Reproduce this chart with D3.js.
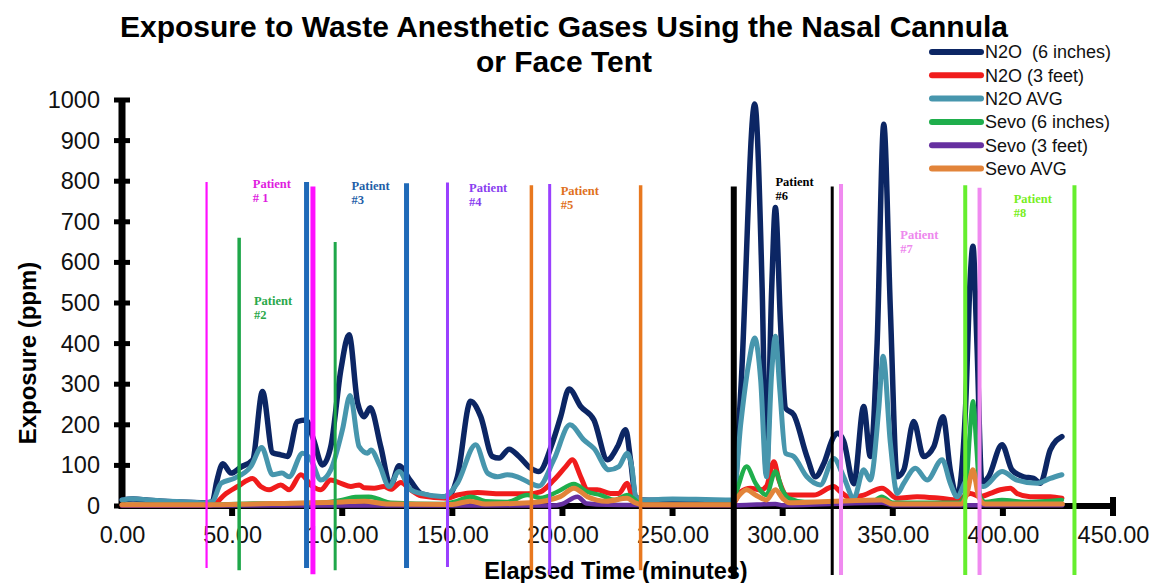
<!DOCTYPE html>
<html><head><meta charset="utf-8">
<script src="https://cdn.jsdelivr.net/npm/d3@7"></script>
<style>
html,body{margin:0;padding:0;background:#fff;}
svg{display:block;font-family:"Liberation Sans",Arial,sans-serif;}
</style></head>
<body>
<svg id="chart" width="1151" height="583"></svg>
<script>
// ---------------- DATA ----------------
const titleLines = ["Exposure to Waste Anesthetic Gases Using the Nasal Cannula", "or Face Tent"];
const xAxisTitle = "Elapsed Time (minutes)";
const yAxisTitle = "Exposure (ppm)";
const xTicks = [0, 50, 100, 150, 200, 250, 300, 350, 400, 450];
const yTicks = [0, 100, 200, 300, 400, 500, 600, 700, 800, 900, 1000];
const seriesNames = ["N2O  (6 inches)", "N2O (3 feet)", "N2O AVG", "Sevo (6 inches)", "Sevo (3 feet)", "Sevo AVG"];

// [minutes, ppm]
const n2o6in = [[0,15],[5,17],[12,14],[25,10],[38,8],[41,10],[43,60],[45.8,104],[49.5,81],[54,96],[59.3,113],[63.8,282],[68.4,131],[72.1,126],[75.2,122],[79.7,208],[83.5,212],[87,163],[91,101],[94.8,146],[99.4,336],[103.1,422],[107,254],[110,220],[112.7,242],[117.5,146],[122,50],[125.8,99],[131,62],[136,30],[145,22],[148,23],[152.3,72],[158.3,258],[162.9,220],[168.2,122],[171.2,118],[175.8,140],[180.3,122],[185.6,93],[189.3,85],[195.4,155],[199.2,220],[203,288],[208.3,245],[214.3,212],[220.4,114],[225,146],[228.7,188],[230.9,114],[233.2,23],[236,15],[250,14],[265,12],[277.5,12],[281,286],[287.3,990],[290.7,533],[292.6,81],[295,533],[296.7,735],[299,452],[301.3,241],[305,225],[311,122],[314.9,72],[318.7,105],[323.2,171],[325,179],[327.7,160],[332.3,55],[336.8,245],[339.8,122],[342.9,402],[345.9,940],[348.9,484],[352,72],[355,89],[359.5,208],[364,122],[368.6,146],[372.8,220],[376.1,89],[379.2,23],[383,237],[385.2,566],[386.4,640],[388.2,402],[390.5,56],[393.5,72],[399.6,151],[404.1,89],[409.4,72],[413.9,68],[417,56],[421.5,138],[426.8,171]];
const n2o3ft = [[0,2],[40,2],[42.6,7],[46.4,27],[52.5,48],[59.3,68],[63,48],[66.8,40],[72.1,52],[75.9,40],[81.2,77],[86.5,48],[90.3,40],[94.8,64],[99.4,56],[103.9,48],[107.7,52],[110,45],[114.5,44],[119,48],[122,41],[126.6,58],[131,40],[135.7,25],[147.8,19],[152.3,27],[161.4,33],[172,30],[184,30],[190,35],[196.1,64],[201.5,97],[204.5,114],[208.3,72],[211.3,40],[215.8,40],[221.9,31],[225.6,31],[229.4,56],[231.2,31],[234,15],[237,3],[277,3],[281,35],[285.4,44],[290,40],[292.6,48],[296,109],[298.3,64],[302,27],[314.1,27],[323.2,48],[326.2,35],[330.8,20],[336.8,27],[345.1,44],[352,19],[361,23],[371.6,19],[379.2,15],[385.2,31],[389.7,23],[394.3,31],[398.8,40],[403.4,44],[406.4,31],[412.4,23],[421.5,23],[426.8,19]];
const n2oAvg = [[0,15],[5,18],[12,15],[25,11],[38,8],[41,11],[45,56],[51,68],[58.5,97],[63.4,144],[68.4,77],[72.6,81],[75.9,72],[82,130],[85.8,114],[90.3,64],[94.8,89],[100.1,188],[103.6,272],[107.7,146],[111.5,130],[113,138],[117,100],[121.3,48],[125.8,85],[131.1,40],[135.7,31],[146.2,23],[152.3,56],[160.6,151],[166,81],[170.5,72],[175,77],[179.5,72],[184.8,58],[189.3,49],[196.1,114],[203.4,200],[209.7,163],[214.3,142],[221.1,89],[225.6,97],[229.4,130],[231.7,89],[233.2,23],[237,15],[250,17],[265,16],[277.5,15],[281,204],[284.6,352],[287.3,414],[290,311],[292.6,72],[295,328],[296.7,418],[298.7,286],[301.3,130],[305,122],[311,72],[317.1,52],[323.2,117],[327.7,72],[332.3,19],[336.8,89],[339.8,64],[343.6,237],[345.6,369],[348.9,155],[352,31],[355,56],[360.3,93],[365.6,64],[372.4,114],[376.1,56],[379.2,23],[383,60],[386.2,80],[389,50],[391.2,48],[399.6,85],[406.4,64],[415.5,56],[421.5,68],[426.8,77]];
const sevo6in = [[0,3],[40,3],[60,6],[90,8],[100,15],[106,22],[112,23],[116,18],[122,8],[145,5],[152,12],[158.3,23],[165,12],[175,10],[184,27],[190,20],[197.7,35],[205.2,54],[211.3,35],[217.3,27],[223.9,15],[229.4,27],[233,15],[236,3],[277,3],[279.3,40],[283.6,97],[287.7,56],[292.6,27],[296.7,85],[299.8,40],[302.8,19],[310,10],[330,8],[340,8],[345,23],[350,8],[380,8],[383,31],[385.2,196],[386.4,258],[387.9,155],[389.7,23],[392,10],[399.6,15],[410,10],[426.8,15]];
const sevo3ft = [[0,1],[195,1],[200,5],[206.8,23],[211,6],[220,3],[280,2],[296.7,5],[300,2],[345,8],[350,2],[427,2]];
const sevoAvg = [[0,3],[40,3],[60,5],[100,10],[110,12],[120,5],[150,4],[158,12],[165,5],[185,8],[199,23],[205.2,44],[211.3,23],[220,12],[229.4,19],[233,8],[237,3],[277,3],[279.3,20],[283.6,40],[287.7,27],[292.6,15],[296.7,40],[300,19],[303,8],[345,15],[350,5],[381,5],[383.7,31],[386.4,89],[389,23],[392,5],[427,5]];

// patient boundary markers: minute, top (ppm), bottom (ppm, below axis)
const markerMinutes = [38.4, 53.2, 83.8, 86.7, 96.8, 129.2, 147.8, 185.9, 194.2, 235.5, 277.8, 322.5, 326.5, 382.9, 389.4, 432.5];
const markerTops    = [798, 661, 798, 787, 650, 795, 797, 790, 793, 790, 787, 787, 793, 790, 784, 790];
const markerBottoms = [-153, -158, -153, -168, -158, -153, -150, -158, -170, -158, -175, -170, -170, -170, -170, -170];

// patient labels
const patientLine1 = ["Patient","Patient","Patient","Patient","Patient","Patient","Patient","Patient"];
const patientLine2 = ["# 1","#2","#3","#4","#5","#6","#7","#8"];
const patientLabelMinutes = [59.4, 59.9, 104.2, 157.6, 199.2, 296.7, 353.4, 404.9];
const patientLabelPpm = [783, 496, 778, 773, 765, 788, 657, 746];

// ---------------- STYLE ----------------
const seriesColors = ["#0c2664", "#f01c1c", "#4796ad", "#1fae4c", "#6630a0", "#e2843a"];
const seriesWidths = [5.5, 5, 5, 4.5, 4.5, 5];
const markerColors = ["#ff10ff","#1fa74a","#1f6ab8","#ff10ff","#1fa74a","#1f6ab8","#9a40ff","#e8781f","#9a40ff","#e8781f","#000000","#000000","#f08af0","#66ee2e","#f08af0","#66ee2e"];
const markerWidths = [2.2, 3.5, 5, 5, 3, 5, 3, 3.5, 3, 3.5, 6, 3, 4, 4, 4, 4];
const patientColors = ["#e01ce0","#2aa84a","#1f5fa8","#8a3ff0","#e07020","#000000","#ee88ee","#77ee22"];

// ---------------- DRAW ----------------
const svg = d3.select("#chart");
svg.append("rect").attr("width",1151).attr("height",583).attr("fill","#fff");

const x = d3.scaleLinear().domain([0,450]).range([122,1113]);
const y = d3.scaleLinear().domain([0,1000]).range([506,100]);

// title
svg.append("g").selectAll("text").data(titleLines).join("text")
  .attr("x",564).attr("y",(d,i)=>37+i*35)
  .attr("text-anchor","middle").attr("font-weight","bold").attr("font-size",30)
  .attr("fill","#000").text(d=>d);

// y axis
const yAxis = d3.axisLeft(y).tickValues(yTicks).tickSize(0).tickPadding(0).tickFormat(d3.format("d"));
const gy = svg.append("g").attr("transform",`translate(${x(0)},0)`).call(yAxis);
gy.select(".domain").remove();
gy.selectAll("text").attr("x",-22).attr("fill","#111")
  .style("font-size","23.5px").style("font-family","'Liberation Sans',Arial,sans-serif");
svg.append("line").attr("x1",x(0)).attr("x2",x(0)).attr("y1",y(1000)-2).attr("y2",y(0)+3)
  .attr("stroke","#000").attr("stroke-width",7);
svg.append("g").selectAll("line").data(yTicks).join("line")
  .attr("x1",x(0)-8).attr("x2",x(0)+8).attr("y1",d=>y(d)).attr("y2",d=>y(d))
  .attr("stroke","#000").attr("stroke-width",5);

// x axis
const xAxis = d3.axisBottom(x).tickValues(xTicks).tickSize(0).tickPadding(0).tickFormat(d3.format(".2f"));
const gx = svg.append("g").attr("transform",`translate(0,${y(0)})`).call(xAxis);
gx.select(".domain").remove();
gx.selectAll("text").attr("dy",0).attr("y",37).attr("fill","#111")
  .style("font-size","23.5px").style("font-family","'Liberation Sans',Arial,sans-serif");
svg.append("line").attr("x1",x(0)).attr("x2",x(450)).attr("y1",y(0)).attr("y2",y(0))
  .attr("stroke","#000").attr("stroke-width",6);
svg.append("g").selectAll("rect").data(xTicks.filter(d=>d>0&&d<450)).join("rect")
  .attr("x",d=>x(d)-3).attr("y",y(0)).attr("width",6).attr("height",10).attr("fill","#000");
svg.append("rect").attr("x",x(450)-3).attr("y",y(0)-9).attr("width",6).attr("height",19).attr("fill","#000");

// axis titles
svg.append("text").attr("x",616).attr("y",579).attr("text-anchor","middle")
  .attr("font-weight","bold").attr("font-size",23.5).text(xAxisTitle);
svg.append("text").attr("transform","translate(36,353) rotate(-90)").attr("text-anchor","middle")
  .attr("font-weight","bold").attr("font-size",24).text(yAxisTitle);

// series
const allSeries = [n2o6in, n2o3ft, n2oAvg, sevo6in, sevo3ft, sevoAvg];
const line = d3.line().x(d=>x(d[0])).y(d=>y(d[1])).curve(d3.curveMonotoneX);
svg.append("g").selectAll("path").data(allSeries).join("path")
  .attr("d",line).attr("fill","none")
  .attr("stroke",(d,i)=>seriesColors[i]).attr("stroke-width",(d,i)=>seriesWidths[i])
  .attr("stroke-linejoin","round").attr("stroke-linecap","round");

// markers
svg.append("g").selectAll("line").data(markerMinutes).join("line")
  .attr("x1",d=>x(d)).attr("x2",d=>x(d))
  .attr("y1",(d,i)=>y(markerTops[i])).attr("y2",(d,i)=>y(markerBottoms[i]))
  .attr("stroke",(d,i)=>markerColors[i]).attr("stroke-width",(d,i)=>markerWidths[i]);

// patient labels
const pl = svg.append("g").selectAll("text").data(patientLabelMinutes).join("text")
  .attr("x",d=>x(d)).attr("y",(d,i)=>y(patientLabelPpm[i]))
  .attr("fill",(d,i)=>patientColors[i])
  .style("font-family","'Liberation Serif','Times New Roman',serif")
  .style("font-weight","bold").style("font-size","12.5px");
pl.append("tspan").text((d,i)=>patientLine1[i]);
pl.append("tspan").attr("x",d=>x(d)).attr("dy",14).text((d,i)=>patientLine2[i]);

// legend
const lg = svg.append("g").selectAll("g").data(seriesNames).join("g")
  .attr("transform",(d,i)=>`translate(0,${52+i*23.3})`);
lg.append("line").attr("x1",932).attr("x2",981).attr("y1",0).attr("y2",0)
  .attr("stroke",(d,i)=>seriesColors[i]).attr("stroke-width",6).attr("stroke-linecap","round");
lg.append("text").attr("x",985).attr("y",0).attr("dy","0.35em").attr("font-size",18)
  .attr("fill","#111").style("white-space","pre").text(d=>d);
</script>
</body></html>
